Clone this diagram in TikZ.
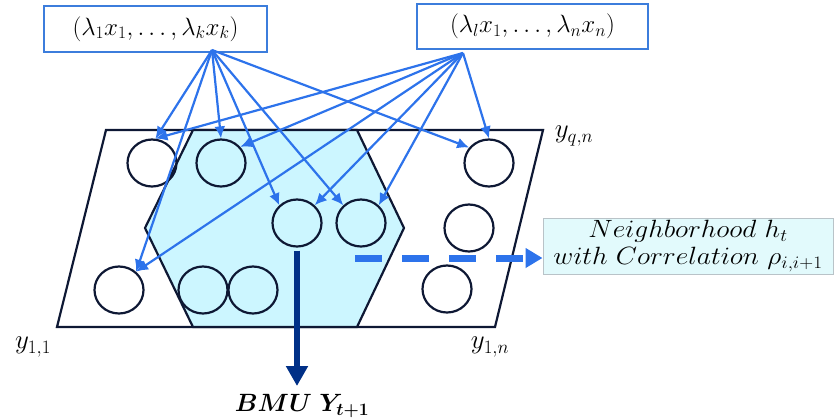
\documentclass[tikz,border=0pt]{standalone}
\usepackage{fix-cm}
\usepackage{bm}
\usetikzlibrary{shapes.geometric,arrows.meta}
\definecolor{ablue}{RGB}{45,115,235}
\definecolor{bblue}{RGB}{60,125,220}
\definecolor{navy}{RGB}{14,24,52}
\definecolor{bmublue}{RGB}{0,48,135}
\definecolor{hexfill}{RGB}{204,246,255}
\definecolor{nbfill}{RGB}{226,250,252}
\definecolor{nbdraw}{RGB}{185,195,200}
\begin{document}
\begin{tikzpicture}[x=1pt,y=-1pt,
  unit/.style={ellipse,draw=navy,line width=2.2pt,minimum width=49pt,minimum height=47pt,inner sep=0pt},
  inbox/.style={draw=bblue,line width=1.6pt,fill=white,inner sep=0pt},
  link/.style={draw=ablue,line width=2.2pt,-{Latex[length=12pt,width=11pt]}},
  lbl/.style={inner sep=0pt,font=\fontsize{27}{32}\selectfont},
  big/.style={inner sep=0pt,font=\fontsize{25}{30}\selectfont}]
\useasboundingbox (0,0) rectangle (835,420);
% grid outline
\draw[navy,line width=2.2pt] (106,130) -- (543,130) -- (495,327) -- (57,327) -- cycle;
% neighbourhood hexagon
\draw[navy,line width=2.2pt,fill=hexfill] (193,130) -- (357,130) -- (404,228) -- (357,327) -- (193,327) -- (145,228) -- cycle;
% units
\node[unit] (c1) at (152,163) {};
\node[unit] (c2) at (221,163) {};
\node[unit] (c3) at (297,223) {};
\node[unit] (c4) at (361,223) {};
\node[unit] (c5) at (119,290) {};
\node[unit] (c6) at (203,290) {};
\node[unit] (c7) at (253,290) {};
\node[unit] (c8) at (489,163) {};
\node[unit] (c9) at (469,228) {};
\node[unit] (c10) at (447,289) {};
% input boxes
\node[inbox,minimum width=223pt,minimum height=46pt,big] (in1) at (155.5,29) {$(\lambda_1x_1,\dots,\lambda_kx_k)$};
\node[inbox,minimum width=231pt,minimum height=45pt,big] (in2) at (532.5,26.5) {$(\lambda_lx_1,\dots,\lambda_nx_n)$};
\coordinate (o1) at (212,50);
\coordinate (o2) at (463,53);
% links from first input
\draw[link] (o1) -- (c1.82);
\draw[link] (o1) -- (c5.47);
\draw[link] (o1) -- (c2.north);
\draw[link] (o1) -- (c3.135);
\draw[link] (o1) -- (c4.135);
\draw[link] (o1) -- (c8.142);
% links from second input
\draw[link] (o2) -- (c1.82);
\draw[link] (o2) -- (c2.40);
\draw[link] (o2) -- (c5.47);
\draw[link] (o2) -- (c3.45);
\draw[link] (o2) -- (c4.45);
\draw[link] (o2) -- (c8.north);
% neighbourhood box
\node[draw=nbdraw,line width=1pt,fill=nbfill,minimum width=290pt,minimum height=56pt,inner sep=0pt,align=center,font=\fontsize{25}{30}\selectfont] (nb) at (688,246)
  {\scalebox{1.1}[1]{$Neighborhood\ h_t$}\\[-3pt] \scalebox{1.1}[1]{$with\ Correlation\ \rho_{i,i+1}$}};
\coordinate (ds) at (355,258);
\coordinate (de) at (nb.west |- ds);
\draw[ablue,line width=7pt,dash pattern=on 27pt off 20pt,-{Triangle[length=17pt,width=19pt]}] (ds) -- (de);
% BMU
\node[inner sep=0pt,font=\fontsize{25}{30}\selectfont] (bmu) at (302,406) {$\bm{BMU\ Y_{t+1}}$};
\coordinate (be) at (297,386);
\draw[bmublue,line width=6.5pt,-{Triangle[length=20pt,width=21pt]},shorten <=3pt] (c3.south) -- (be);
% corner labels
\node[lbl] (yqn) at (574,136) {$y_{q,n}$};
\node[lbl] (y11) at (33,347) {$y_{1,1}$};
\node[lbl] (y1n) at (490,347) {$y_{1,n}$};
\end{tikzpicture}
\end{document}
